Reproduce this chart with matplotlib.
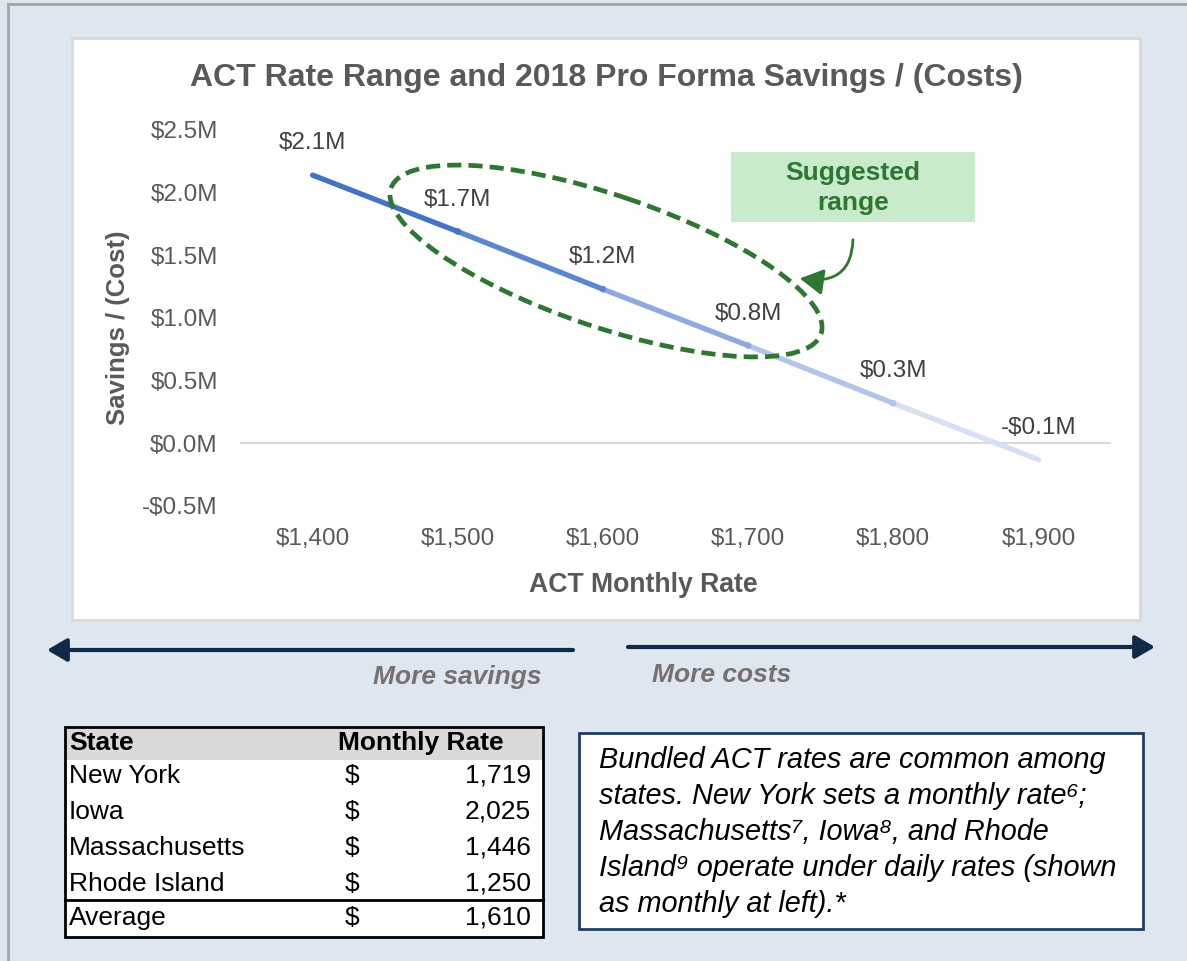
import matplotlib
matplotlib.use("Agg")
import matplotlib.pyplot as plt
from matplotlib.patches import Rectangle, Ellipse, FancyArrowPatch

# ---- data ----
rates = [1400, 1500, 1600, 1700, 1800, 1900]
savings = [2.14, 1.69, 1.23, 0.78, 0.32, -0.13]   # $M
y_ticks = [-0.5, 0.0, 0.5, 1.0, 1.5, 2.0, 2.5]
segment_colors = ["#4472C4", "#5B87D1", "#8EAADE", "#B2C5E9", "#D6E0F3"]

states = ["New York", "Iowa", "Massachusetts", "Rhode Island"]
state_rates = [1719, 2025, 1446, 1250]

note_lines = [
    "Bundled ACT rates are common among",
    "states. New York sets a monthly rate\u2076;",
    "Massachusetts\u2077, Iowa\u2078, and Rhode",
    "Island\u2079 operate under daily rates (shown",
    "as monthly at left).*",
]

FONT = ["Liberation Sans", "DejaVu Sans"]
GRAY = "#595959"
GREEN = "#2E7631"
NAVY = "#0E2A47"
W, H = 1187, 961

plt.rcParams["font.family"] = FONT


def money(v):
    return f"-${abs(v):.1f}M" if v < 0 else f"${v:.1f}M"


fig = plt.figure(figsize=(W / 100, H / 100), dpi=100)

# background layer in pixel coordinates
bg = fig.add_axes([0, 0, 1, 1], zorder=0)
bg.set_xlim(0, W)
bg.set_ylim(H, 0)
bg.axis("off")
bg.add_patch(Rectangle((0, 0), W, H, facecolor="#DEE6EF", edgecolor="none"))
bg.plot([8, 8], [4, H], color="#A6A6A6", lw=2)
bg.plot([8, W], [4, 4], color="#A6A6A6", lw=2)
bg.add_patch(Rectangle((72, 38), 1068, 582, facecolor="white",
                       edgecolor="#D9D9D9", lw=2))

# chart
ax = fig.add_axes([240 / W, 1 - 506 / H, 871 / W, 376 / H], zorder=1)
ax.set_facecolor("none")
for i in range(len(rates) - 1):
    ax.plot(rates[i:i + 2], savings[i:i + 2], color=segment_colors[i],
            lw=3.8, solid_capstyle="round", zorder=3)
ax.scatter(rates[1:-1], savings[1:-1], s=14, color=segment_colors[:4],
           zorder=4)
for x, v in zip(rates, savings):
    ax.annotate(money(v), (x, v), xytext=(0, 15), textcoords="offset points",
                ha="center", va="bottom", fontsize=17.5, color="#404040")
ax.axhline(0, color="#D9D9D9", lw=1.5, zorder=1)
ax.set_xlim(1350, 1950)
ax.set_ylim(-0.5, 2.5)
ax.set_xticks(rates)
ax.set_xticklabels([f"${r:,}" for r in rates])
ax.set_yticks(y_ticks)
ax.set_yticklabels([money(v) for v in y_ticks])
ax.tick_params(axis="both", length=0, labelsize=17.5, labelcolor=GRAY)
ax.tick_params(axis="x", pad=16)
ax.tick_params(axis="y", pad=16)
for s in ax.spines.values():
    s.set_visible(False)

# overlay layer in pixel coordinates
ov = fig.add_axes([0, 0, 1, 1], zorder=2)
ov.set_xlim(0, W)
ov.set_ylim(H, 0)
ov.axis("off")
ov.patch.set_alpha(0)

ov.text(606, 78, "ACT Rate Range and 2018 Pro Forma Savings / (Costs)",
        ha="center", va="center", fontsize=23, fontweight="bold", color=GRAY)
ov.text(118, 328, "Savings / (Cost)", rotation=90, ha="center", va="center",
        fontsize=18.5, fontweight="bold", color=GRAY)
ov.text(643, 585, "ACT Monthly Rate", ha="center", va="center",
        fontsize=19.2, fontweight="bold", color=GRAY)

# suggested range ellipse + callout
ov.add_patch(Ellipse((606, 261), 454, 132, angle=18.7, fill=False,
                     edgecolor=GREEN, lw=3.4, ls=(0, (3, 1.5)), zorder=5))
ov.add_patch(Rectangle((731, 152), 244, 70, facecolor="#C9EBCB",
                       edgecolor="none"))
ov.text(853, 188, "Suggested\nrange", ha="center", va="center", fontsize=19,
        fontweight="bold", color=GREEN, linespacing=1.3)
ov.add_patch(FancyArrowPatch((853, 237), (797, 278),
                             connectionstyle="angle3,angleA=90,angleB=170",
                             arrowstyle="-|>,head_length=9,head_width=5",
                             color=GREEN, lw=2, mutation_scale=1.6))

# direction arrows
ov.annotate("", xy=(47, 650), xytext=(573, 650),
            arrowprops=dict(arrowstyle="-|>,head_length=0.6,head_width=0.35",
                            color=NAVY, lw=3, mutation_scale=20,
                            shrinkA=0, shrinkB=0))
ov.annotate("", xy=(1155, 647), xytext=(628, 647),
            arrowprops=dict(arrowstyle="-|>,head_length=0.6,head_width=0.35",
                            color=NAVY, lw=3, mutation_scale=20,
                            shrinkA=0, shrinkB=0))
ov.text(457, 677, "More savings", ha="center", va="center", fontsize=19,
        fontweight="bold", style="italic", color="#767171")
ov.text(722, 675, "More costs", ha="center", va="center", fontsize=19,
        fontweight="bold", style="italic", color="#767171")

# rates table
ov.add_patch(Rectangle((65, 727), 478, 210, facecolor="white",
                       edgecolor="none", zorder=0.5))
ov.add_patch(Rectangle((65, 727), 478, 33, facecolor="#D9D9D9",
                       edgecolor="none", zorder=0.6))
ov.add_patch(Rectangle((65, 727), 478, 210, fill=False, edgecolor="black",
                       lw=2, zorder=3))
ov.plot([65, 543], [900, 900], color="black", lw=2, zorder=3)
ov.text(69, 743, "State", ha="left", va="center", fontsize=19,
        fontweight="bold", color="black")
ov.text(338, 743, "Monthly Rate", ha="left", va="center", fontsize=19,
        fontweight="bold", color="black")
avg = sum(state_rates) / len(state_rates)
rows = list(zip(states, state_rates)) + [("Average", avg)]
for i, (name, r) in enumerate(rows):
    y = 776 + 36 * i if i < 4 else 918
    ov.text(69, y, name, ha="left", va="center", fontsize=19, color="black")
    ov.text(345, y, "$", ha="left", va="center", fontsize=19, color="black")
    ov.text(531, y, f"{r:,.0f}", ha="right", va="center", fontsize=19,
            color="black")

# note box
ov.add_patch(Rectangle((579, 733), 564, 196, facecolor="white",
                       edgecolor="#1F3F60", lw=2))
for i, line in enumerate(note_lines):
    ov.text(599, 760 + 36 * i, line, ha="left", va="center", fontsize=20.8,
            style="italic", color="black", family=FONT)

fig.savefig("out.png", dpi=100)
